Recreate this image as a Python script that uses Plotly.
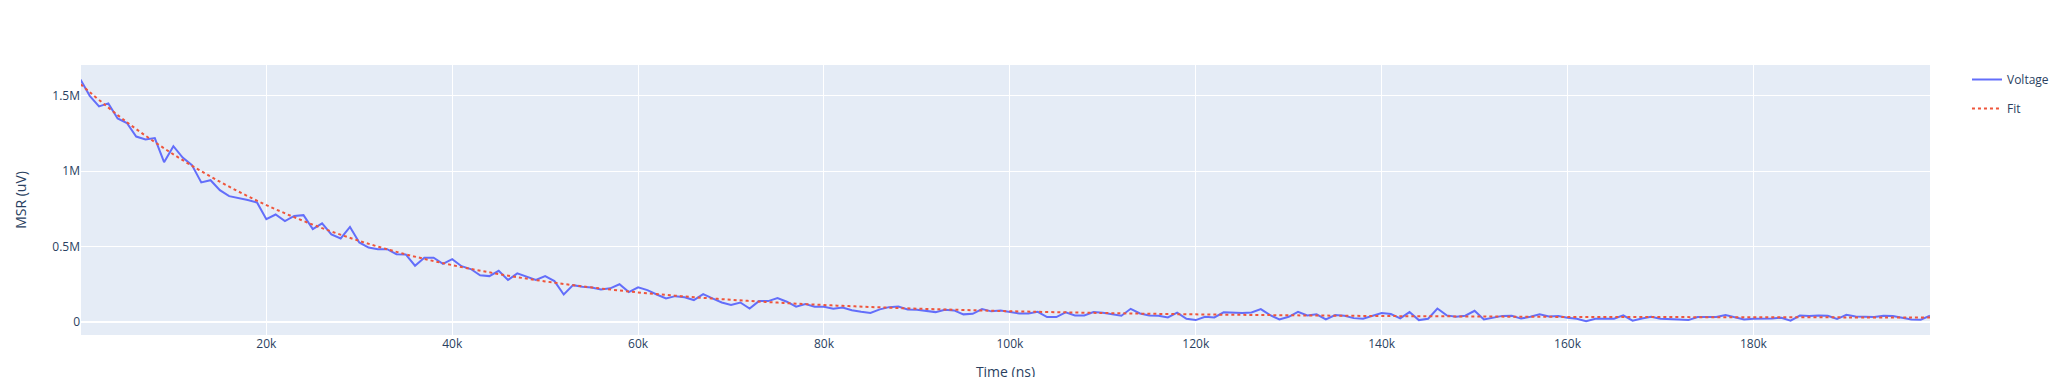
import plotly.graph_objects as go

# Time axis: 0 .. 199000 ns in 1000 ns steps
time_ns = [i * 1000 for i in range(200)]

voltage_M = [
    1.608, 1.50, 1.43, 1.45, 1.35, 1.32, 1.23, 1.21, 1.22, 1.06,
    1.166, 1.09, 1.04, 0.925, 0.94, 0.874, 0.834, 0.823, 0.808, 0.792,
    0.681, 0.712, 0.668, 0.703, 0.708, 0.615, 0.653, 0.58, 0.553, 0.63,
    0.527, 0.493, 0.482, 0.482, 0.449, 0.447, 0.372, 0.425, 0.425, 0.385,
    0.416, 0.369, 0.35, 0.308, 0.303, 0.338, 0.277, 0.321, 0.299, 0.277,
    0.303, 0.27, 0.181, 0.243, 0.232, 0.228, 0.215, 0.222, 0.249, 0.197,
    0.228, 0.21, 0.181, 0.155, 0.17, 0.162, 0.144, 0.184, 0.155, 0.128,
    0.111, 0.128, 0.088, 0.137, 0.137, 0.157, 0.133, 0.10, 0.117, 0.10,
    0.10, 0.086, 0.095, 0.077, 0.066, 0.058, 0.082, 0.097, 0.101, 0.081,
    0.079, 0.074, 0.064, 0.08, 0.075, 0.049, 0.053, 0.084, 0.069, 0.075,
    0.064, 0.055, 0.055, 0.066, 0.031, 0.031, 0.062, 0.042, 0.042, 0.064,
    0.06, 0.049, 0.04, 0.086, 0.055, 0.042, 0.04, 0.029, 0.06, 0.02,
    0.011, 0.033, 0.029, 0.063, 0.06, 0.058, 0.062, 0.084, 0.044, 0.015,
    0.033, 0.066, 0.042, 0.049, 0.015, 0.044, 0.04, 0.024, 0.02, 0.038,
    0.058, 0.051, 0.022, 0.064, 0.011, 0.02, 0.088, 0.042, 0.033, 0.04,
    0.073, 0.015, 0.027, 0.039, 0.04, 0.021, 0.033, 0.049, 0.035, 0.038,
    0.027, 0.02, 0.004, 0.02, 0.02, 0.02, 0.042, 0.007, 0.022, 0.033,
    0.02, 0.02, 0.015, 0.011, 0.031, 0.031, 0.031, 0.044, 0.031, 0.015,
    0.02, 0.02, 0.022, 0.027, 0.007, 0.041, 0.038, 0.042, 0.04, 0.018,
    0.046, 0.035, 0.035, 0.031, 0.04, 0.038, 0.027, 0.015, 0.013, 0.04,
]

# Fit curve values (in millions)
fit_time_ns = [0, 5000, 10000, 15000, 20000, 25000, 30000, 35000, 40000, 45000,
               50000, 55000, 60000, 65000, 70000, 75000, 80000, 85000, 90000, 95000,
               100000, 110000, 120000, 130000, 140000, 150000, 160000, 170000,
               180000, 190000, 199000]
fit_M = [1.577, 1.325, 1.112, 0.93, 0.775, 0.645, 0.537, 0.448, 0.376, 0.317,
         0.268, 0.228, 0.195, 0.168, 0.146, 0.127, 0.111, 0.098, 0.087, 0.078,
         0.070, 0.058, 0.049, 0.043, 0.038, 0.035, 0.032, 0.031, 0.030, 0.029,
         0.028]

voltage = [v * 1e6 for v in voltage_M]
fit = [v * 1e6 for v in fit_M]

fig = go.Figure()
fig.add_trace(go.Scatter(
    x=time_ns, y=voltage, mode="lines", name="Voltage", legendgroup="Voltage",
    line=dict(color="#636EFA", width=2),
))
fig.add_trace(go.Scatter(
    x=fit_time_ns, y=fit, mode="lines", name="Fit", legendgroup="Fit",
    line=dict(color="#EF553B", width=2, dash="dot", shape="spline"),
))

fig.update_layout(
    template="plotly",
    width=2058, height=389,
    margin=dict(l=73, r=136, t=57, b=62, autoexpand=False),
    xaxis=dict(title=dict(text="Time (ns)", standoff=16), range=[60, 199000],
               automargin=True),
    yaxis=dict(title=dict(text="MSR (uV)", standoff=22), range=[-88000, 1705000],
               automargin=True),
    legend=dict(tracegroupgap=10),
)

fig.write_html("out.html")
